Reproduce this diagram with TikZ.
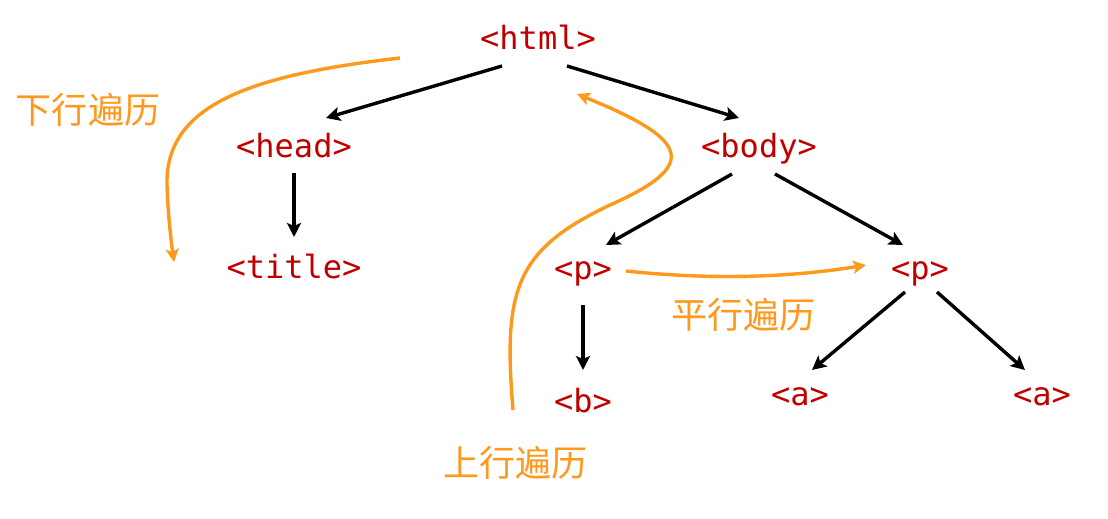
\documentclass[tikz,border=0pt]{standalone}
\usepackage{fontspec}
\newfontfamily\monofont{DejaVu Sans Mono}
\newfontfamily\cjk{Noto Sans CJK SC}
\usetikzlibrary{arrows.meta,calc}
\definecolor{tagred}{RGB}{192,0,0}
\definecolor{trorange}{RGB}{255,153,30}
\tikzset{
  tag/.style={anchor=base,inner sep=0pt,text=tagred,font=\monofont\fontsize{16}{18}\selectfont},
  lbl/.style={inner sep=0pt,text=trorange,font=\cjk\fontsize{18}{20}\selectfont},
  arr/.style={draw=black,line width=1.7pt,-{Stealth[length=7pt,width=7pt,inset=1.5pt]}},
  oarr/.style={draw=trorange,line width=1.7pt,-{Stealth[length=6.5pt,width=6.5pt,inset=1.5pt]}},
}
\begin{document}
\begin{tikzpicture}[x=0.5pt,y=-0.5pt]
\useasboundingbox (0,0) rectangle (1108,519);
\node[tag] (html) at (538,50) {<html>};
\node[tag] (head) at (294,157) {<head>};
\node[tag] (body) at (759,157) {<body>};
\node[tag] (title) at (294,278) {<title>};
\node[tag] (p1) at (583,279) {<p>};
\node[tag] (p2) at (920,279) {<p>};
\node[tag] (b) at (583,412) {<b>};
\node[tag] (a1) at (800,405) {<a>};
\node[tag] (a2) at (1042,405) {<a>};

\draw[arr] ($(html.base)+(-36,16)$) -- ($(head.base)+(32,-39)$);
\draw[arr] ($(html.base)+(29,16)$) -- ($(body.base)+(-20,-39)$);
\draw[arr] ($(head.base)+(0,16)$) -- ($(title.base)+(0,-41)$);
\draw[arr] ($(body.base)+(-27,17)$) -- ($(p1.base)+(23,-34)$);
\draw[arr] ($(body.base)+(16,17)$) -- ($(p2.base)+(-17,-34)$);
\draw[arr] ($(p1.base)+(0,26)$) -- ($(b.base)+(0,-42)$);
\draw[arr] ($(p2.base)+(-15,13)$) -- ($(a1.base)+(12,-35)$);
\draw[arr] ($(p2.base)+(17,13)$) -- ($(a2.base)+(-17,-35)$);

\node[lbl] (down) at (88,110) {下行遍历};
\node[lbl] (up) at (515,463) {上行遍历};
\node[lbl] (par) at (743,315) {平行遍历};

\coordinate (d0) at (400,58);
\coordinate (d1) at (174,262);
\draw[oarr] (d0) .. controls (250,75) and (165,105) .. (167,185) .. controls (168,215) and (171,240) .. (d1);

\coordinate (u0) at (513,410);
\coordinate (u1) at (577,94);
\draw[oarr] (u0) .. controls (503,290) and (515,250) .. (610,205) .. controls (700,165) and (690,140) .. (u1);

\draw[oarr] ($(p1.base)+(43,-8)$) .. controls (720,281) and (800,276) .. ($(p2.base)+(-54,-14)$);
\end{tikzpicture}
\end{document}
